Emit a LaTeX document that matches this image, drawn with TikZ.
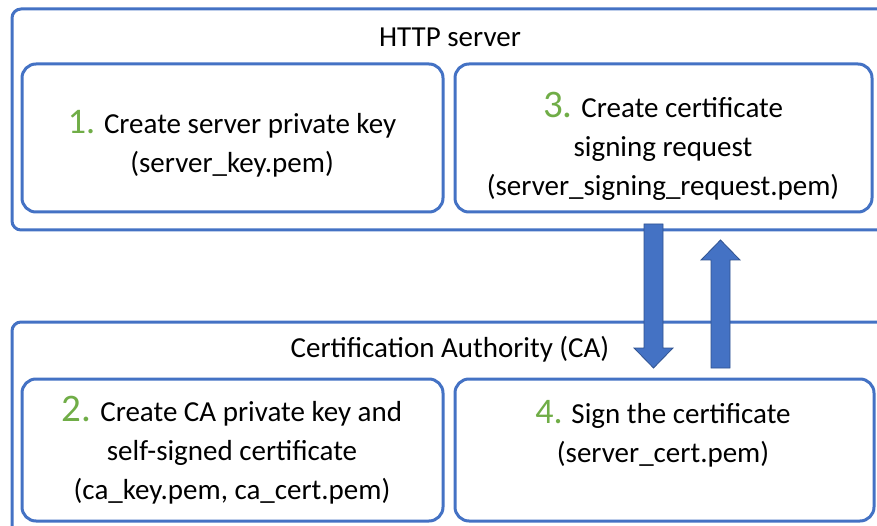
\documentclass[tikz,border=0pt]{standalone}
\usepackage{fontspec}
\setmainfont{Carlito}
\definecolor{boxblue}{HTML}{4472C4}
\definecolor{arrowedge}{HTML}{2F528F}
\definecolor{numgreen}{HTML}{70AD47}
\tikzset{
  outerbox/.style={draw=boxblue, line width=3pt, rounded corners=9pt},
  innerbox/.style={draw=boxblue, line width=3pt, rounded corners=14pt},
  bigarrow/.style={fill=boxblue, draw=arrowedge, line width=0.8pt},
  label/.style={inner sep=0pt, font=\fontsize{29}{39}\selectfont},
  stepbody/.style={inner sep=0pt, align=center, font=\fontsize{29}{39}\selectfont},
}
\newcommand{\numA}[1]{{\color{numgreen}\fontsize{36}{39}\selectfont #1}}
\newcommand{\numB}[1]{{\color{numgreen}\fontsize{39}{39}\selectfont #1}}
\begin{document}
\begin{tikzpicture}[x=1pt,y=-1pt]
\useasboundingbox (0,0) rectangle (877,526);
\clip (0,0) rectangle (877,526);
% outer boxes
\draw[outerbox] (12,9) rectangle (900,230);
\draw[outerbox] (12,322) rectangle (900,560);
\node[label] (http) at (450,37) {HTTP server};
\node[label] (ca) at (450,349) {Certification Authority (CA)};
% inner boxes
\draw[innerbox] (22,64) rectangle (443,212);
\draw[innerbox] (455,64) rectangle (872,212);
\draw[innerbox] (22,379) rectangle (443,521);
\draw[innerbox] (455,379) rectangle (874,521);
% step texts
\node[stepbody] (s1) at (232,144) {\numA{1.} Create server private key\\(server\_key.pem)};
\node[stepbody] (s3) at (663,146) {\numB{3.} Create certificate\\signing request\\(server\_signing\_request.pem)};
\node[stepbody] (s2) at (232,450) {\numB{2.} Create CA private key and\\self-signed certificate\\(ca\_key.pem, ca\_cert.pem)};
\node[stepbody] (s4) at (663,434) {\numA{4.} Sign the certificate\\(server\_cert.pem)};
% arrows
\draw[bigarrow] (644,224) -- (663,224) -- (663,348) -- (673,348) -- (653.5,368) -- (634,348) -- (644,348) -- cycle;
\draw[bigarrow] (711,368) -- (730,368) -- (730,260) -- (740,260) -- (720.5,240) -- (701,260) -- (711,260) -- cycle;
\end{tikzpicture}
\end{document}
